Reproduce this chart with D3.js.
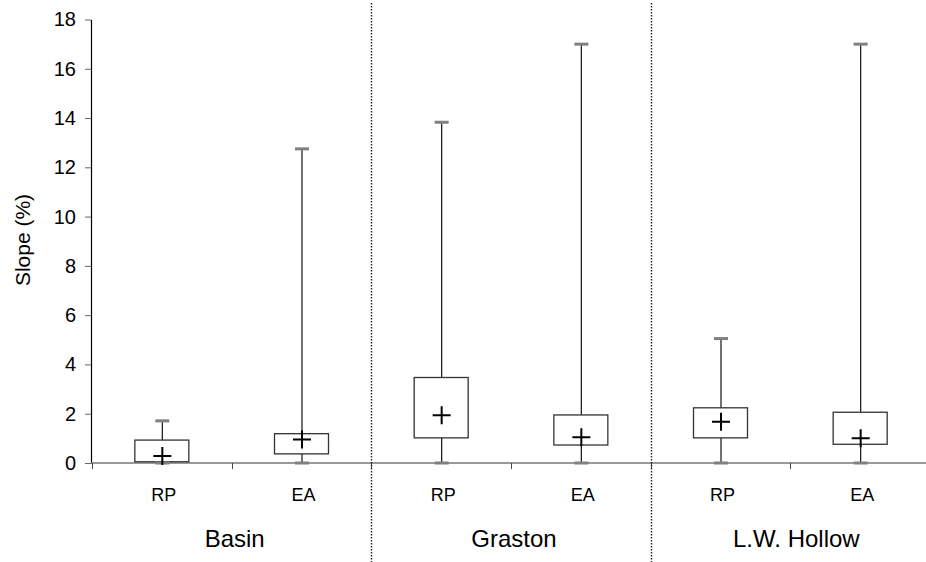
<!DOCTYPE html>
<html>
<head>
<meta charset="utf-8">
<script src="https://cdn.jsdelivr.net/npm/d3@7"></script>
<style>
  html, body { margin: 0; padding: 0; background: #fff; }
  svg { display: block; font-family: "Liberation Sans", Arial, sans-serif; }
</style>
</head>
<body>
<svg id="chart" width="926" height="562"></svg>
<script>
// Slope distributions per site and sampling method
const groups = ["Basin", "Graston", "L.W. Hollow"];
const methods = ["RP", "EA"];
const minVals  = [0, 0, 0, 0, 0, 0];
const q1Vals   = [0.05, 0.37, 1.02, 0.73, 1.02, 0.76];
const q3Vals   = [0.93, 1.19, 3.47, 1.95, 2.24, 2.06];
const maxVals  = [1.71, 12.75, 13.83, 17.0, 5.05, 17.0];
const meanVals = [0.28, 0.95, 1.94, 1.05, 1.67, 1.0];
const yTicks = [0, 2, 4, 6, 8, 10, 12, 14, 16, 18];

const rows = [];
groups.forEach((g, gi) => methods.forEach((m, mi) => {
  const i = gi * methods.length + mi;
  rows.push({ key: g + "|" + m, group: g, method: m,
    min: minVals[i], q1: q1Vals[i], q3: q3Vals[i], max: maxVals[i], mean: meanVals[i] });
}));

const svg = d3.select("#chart");
const x0 = 91, y0 = 463;

const x = d3.scaleBand().domain(rows.map(d => d.key)).range([92, 930]).padding(0);
const y = d3.scaleLinear().domain([0, 18]).range([y0, 19.5]);

// y axis
const yAxis = svg.append("g").attr("transform", `translate(${x0},0)`)
  .call(d3.axisLeft(y).tickValues(yTicks).tickSize(6).tickPadding(9).tickSizeOuter(0));
yAxis.attr("font-family", null).attr("font-size", null);
yAxis.select(".domain").attr("stroke", "#000").attr("stroke-width", 1.2);
yAxis.selectAll(".tick line").attr("stroke", "#666");
yAxis.selectAll(".tick text").style("font-size", "20px").attr("fill", "#000");

// x axis baseline and ticks at category edges
svg.append("line").attr("x1", x0).attr("x2", 926).attr("y1", y0).attr("y2", y0)
  .attr("stroke", "#777").attr("stroke-width", 1.5);
const edges = rows.map(d => x(d.key));
svg.selectAll("line.xtick").data(edges).join("line").attr("class", "xtick")
  .attr("x1", d => Math.round(d) + 0.5).attr("x2", d => Math.round(d) + 0.5)
  .attr("y1", y0).attr("y2", y0 + 6).attr("stroke", "#444");

// dotted separators between sites
const groupStarts = groups.map(g => x(g + "|" + methods[0]));
svg.selectAll("line.sep").data(groupStarts.slice(1)).join("line").attr("class", "sep")
  .attr("x1", d => Math.round(d) + 0.5).attr("x2", d => Math.round(d) + 0.5)
  .attr("y1", 3).attr("y2", 562)
  .attr("stroke", "#222").attr("stroke-width", 1.4).attr("stroke-dasharray", "1.5,1.5");

// boxes
const bw = 54, capW = 14;
const box = svg.selectAll("g.box").data(rows).join("g").attr("class", "box")
  .attr("transform", d => `translate(${x(d.key) + x.bandwidth() / 2},0)`);

box.append("line").attr("x1", 0.5).attr("x2", 0.5)
  .attr("y1", d => y(d.q3)).attr("y2", d => y(d.max)).attr("stroke", "#111").attr("stroke-width", 1.2);
box.append("line").attr("x1", 0.5).attr("x2", 0.5)
  .attr("y1", d => y(d.q1)).attr("y2", d => y(d.min)).attr("stroke", "#111").attr("stroke-width", 1.2);
box.append("rect").attr("x", -bw / 2).attr("width", bw)
  .attr("y", d => y(d.q3)).attr("height", d => y(d.q1) - y(d.q3))
  .attr("fill", "#fff").attr("stroke", "#333").attr("stroke-width", 1.3);
box.append("rect").attr("x", -capW / 2 + 0.5).attr("width", capW).attr("height", 3)
  .attr("y", d => y(d.max) - 1.5).attr("fill", "#808080");
box.append("rect").attr("x", -capW / 2 + 0.5).attr("width", capW).attr("height", 3)
  .attr("y", d => y(d.min) - 1.5).attr("fill", "#808080");

// mean marker
const pm = 9;
box.append("path")
  .attr("d", d => `M${-pm + 0.5},${y(d.mean)}H${pm + 0.5}M0.5,${y(d.mean) - pm}V${y(d.mean) + pm}`)
  .attr("stroke", "#000").attr("stroke-width", 2).attr("fill", "none");

// category labels
svg.selectAll("text.cat").data(rows).join("text").attr("class", "cat")
  .attr("x", d => x(d.key) + x.bandwidth() / 2 + 2).attr("y", 501)
  .attr("text-anchor", "middle").style("font-size", "18px").text(d => d.method);

// site labels
svg.selectAll("text.grp").data(groups).join("text").attr("class", "grp")
  .attr("x", (g, i) => groupStarts[i] + x.bandwidth() + (i === 2 ? 6 : 3))
  .attr("y", 547).attr("text-anchor", "middle").style("font-size", "24px").text(g => g);

// y axis title
svg.append("text").attr("transform", "translate(30,240) rotate(-90)")
  .attr("text-anchor", "middle").style("font-size", "21px").text("Slope (%)");
</script>
</body>
</html>
